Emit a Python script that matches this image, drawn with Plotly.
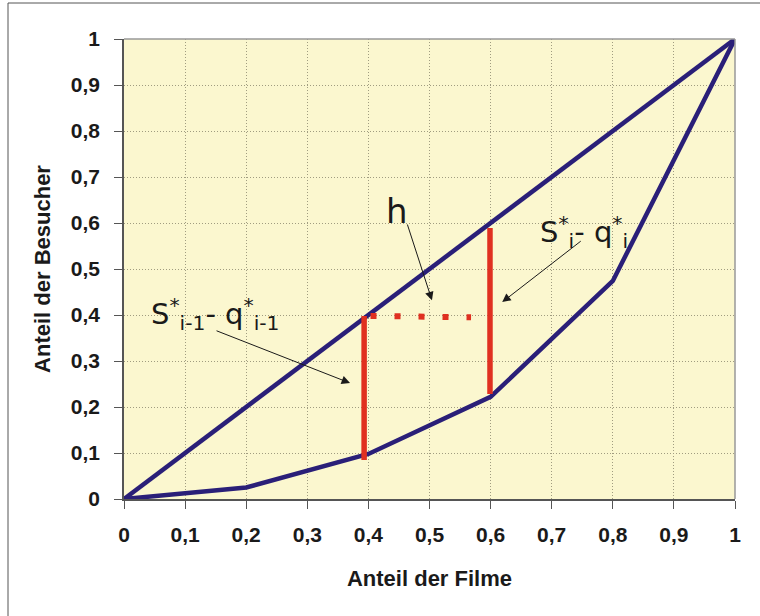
import plotly.graph_objects as go

# data
diag_x = [0, 1]
diag_y = [0, 1]
lorenz_x = [0, 0.2, 0.4, 0.6, 0.8, 1.0]
lorenz_y = [0, 0.025, 0.098, 0.222, 0.474, 1.0]
red1_x = [0.393, 0.393]
red1_y = [0.085, 0.398]
red2_x = [0.599, 0.599]
red2_y = [0.228, 0.589]
h_x = [0.4035, 0.568]
h_y = [0.398, 0.395]
tick_vals = [0, 0.1, 0.2, 0.3, 0.4, 0.5, 0.6, 0.7, 0.8, 0.9, 1]
tick_text = ["0", "0,1", "0,2", "0,3", "0,4", "0,5", "0,6", "0,7", "0,8", "0,9", "1"]

navy = "#2a1f78"
red = "#e03020"

fig = go.Figure()
fig.add_trace(go.Scatter(x=diag_x, y=diag_y, mode="lines",
                         line=dict(color=navy, width=4.5), hoverinfo="skip"))
fig.add_trace(go.Scatter(x=lorenz_x, y=lorenz_y, mode="lines",
                         line=dict(color=navy, width=4.5), hoverinfo="skip"))
fig.add_trace(go.Scatter(x=red1_x, y=red1_y, mode="lines",
                         line=dict(color=red, width=5.5), hoverinfo="skip"))
fig.add_trace(go.Scatter(x=red2_x, y=red2_y, mode="lines",
                         line=dict(color=red, width=5.5), hoverinfo="skip"))
fig.add_trace(go.Scatter(x=h_x, y=h_y, mode="lines",
                         line=dict(color=red, width=6, dash="6px,18px"), hoverinfo="skip"))

txtfont = dict(family="DejaVu Sans", size=29, color="#1a1a1a")
# h label + arrow
fig.add_annotation(x=0.447, y=0.626, xref="x", yref="y", text="h", showarrow=False,
                   font=dict(family="DejaVu Sans", size=34, color="#1a1a1a"))
fig.add_annotation(x=0.504, y=0.432, ax=0.463, ay=0.6, xref="x", yref="y",
                   axref="x", ayref="y", text="", showarrow=True, arrowhead=2,
                   arrowsize=1.7, arrowwidth=1, arrowcolor="#1a1a1a")
# S*_i - q*_i
fig.add_annotation(x=0.753, y=0.58, xref="x", yref="y",
                   text="S<sup>*</sup><sub>i</sub>- q<sup>*</sup><sub>i</sub>",
                   showarrow=False, font=txtfont)
fig.add_annotation(x=0.619, y=0.428, ax=0.75, ay=0.563, xref="x", yref="y",
                   axref="x", ayref="y", text="", showarrow=True, arrowhead=2,
                   arrowsize=1.7, arrowwidth=1, arrowcolor="#1a1a1a")
# S*_{i-1} - q*_{i-1}
fig.add_annotation(x=0.15, y=0.402, xref="x", yref="y",
                   text="S<sup>*</sup><sub>i-1</sub>- q<sup>*</sup><sub>i-1</sub>",
                   showarrow=False, font=txtfont)
fig.add_annotation(x=0.37, y=0.252, ax=0.149, ay=0.367, xref="x", yref="y",
                   axref="x", ayref="y", text="", showarrow=True, arrowhead=2,
                   arrowsize=1.7, arrowwidth=1, arrowcolor="#1a1a1a")

bold_ticks = ["<b>" + t + "</b>" for t in tick_text]
axis_common = dict(
    range=[0, 1], tickvals=tick_vals, ticktext=bold_ticks,
    showgrid=True, gridcolor="#a09c80", griddash="1px,2px", gridwidth=1,
    zeroline=False, showline=True, linecolor="#555555", linewidth=1.5,
    ticks="outside", ticklen=8, tickcolor="#555555",
    tickfont=dict(family="Liberation Sans", size=21, color="#1a1a1a"),
    mirror=False, fixedrange=True,
)
title_font = dict(family="Liberation Sans", size=22, color="#1a1a1a")

fig.update_layout(
    width=760, height=616,
    margin=dict(l=124, r=25, t=39, b=117),
    paper_bgcolor="white", plot_bgcolor="#fbf7cf",
    showlegend=False,
    xaxis=dict(**axis_common, ticklabelstandoff=8,
               title=dict(text="<b>Anteil der Filme</b>", standoff=26, font=title_font)),
    yaxis=dict(**axis_common, ticklabelstandoff=10,
               title=dict(text="<b>Anteil der Besucher</b>", standoff=14, font=title_font)),
)
# top/right plot frame (light gray)
fig.add_shape(type="line", xref="paper", yref="paper", x0=0, x1=1, y0=1, y1=1,
              line=dict(color="#999999", width=1.5), layer="above")
fig.add_shape(type="line", xref="paper", yref="paper", x0=1, x1=1, y0=0, y1=1,
              line=dict(color="#999999", width=1.5), layer="above")
# outer border (top and left visible)
fig.add_shape(type="rect", xref="paper", yref="paper",
              x0=-116 / 611, x1=1.2, y0=-0.5, y1=1 + 36 / 460,
              line=dict(color="#555555", width=1), layer="below")

fig.write_html("out.html", config={"displayModeBar": False},
               post_script="document.body.style.margin='0';document.body.style.overflow='hidden';")
